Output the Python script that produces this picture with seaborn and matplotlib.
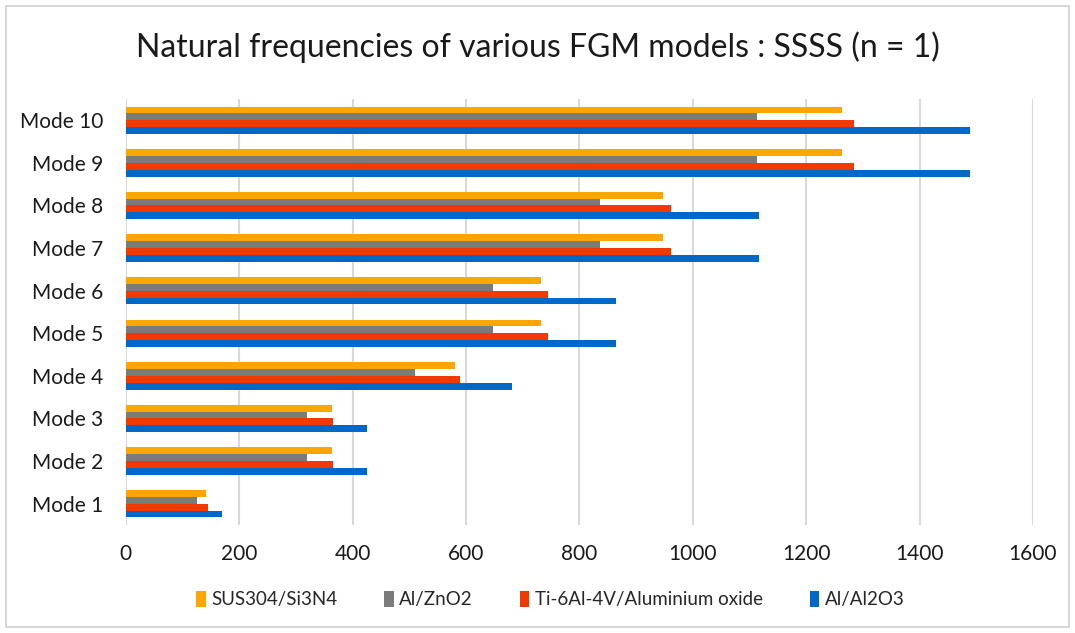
import matplotlib
matplotlib.use("Agg")
import matplotlib.pyplot as plt
import pandas as pd
import seaborn as sns
from matplotlib.patches import Rectangle

# Data
modes = ["Mode 10", "Mode 9", "Mode 8", "Mode 7", "Mode 6",
         "Mode 5", "Mode 4", "Mode 3", "Mode 2", "Mode 1"]
models = ["SUS304/Si3N4", "Al/ZnO2", "Ti-6Al-4V/Aluminium oxide", "Al/Al2O3"]

sus304_si3n4 = [1263, 1263, 947, 947, 732, 732, 580, 363, 363, 141]
al_zno2 = [1114, 1114, 836, 836, 647, 647, 510, 319, 319, 126]
ti6al4v_alox = [1284, 1284, 962, 962, 745, 745, 590, 366, 366, 145]
al_al2o3 = [1489, 1489, 1117, 1117, 865, 865, 682, 426, 426, 169]

colors = ["#FFA500", "#7B7B7B", "#F03A00", "#0068C9"]

series = [sus304_si3n4, al_zno2, ti6al4v_alox, al_al2o3]
rows = []
for name, vals in zip(models, series):
    for m, v in zip(modes, vals):
        rows.append({"mode": m, "model": name, "freq": v})
df = pd.DataFrame(rows)

sns.set_theme(style="white")
plt.rcParams["font.family"] = ["Lato", "DejaVu Sans"]

fig = plt.figure(figsize=(10.75, 6.33), dpi=100)
ax = fig.add_axes([125.7 / 1075, 1 - 525 / 633, (1033 - 125.7) / 1075, (525 - 99) / 633])

sns.barplot(data=df, y="mode", x="freq", hue="model", order=modes,
            hue_order=models, palette=colors, orient="h", width=0.64,
            gap=0, saturation=1, errorbar=None, ax=ax, linewidth=0)

ax.set_xlim(0, 1600)
ax.set_xticks(range(0, 1601, 200))
ax.xaxis.grid(True, color="#D9D9D9", linewidth=1.5)
ax.set_axisbelow(True)
for s in ax.spines.values():
    s.set_visible(False)
ax.set_xlabel("")
ax.set_ylabel("")
ax.tick_params(axis="both", length=0, labelsize=15, colors="#1a1a1a")
ax.tick_params(axis="x", pad=14)
ax.tick_params(axis="y", pad=16)

fig.suptitle("Natural frequencies of various FGM models : SSSS (n = 1)",
             y=1 - 47 / 633, va="center", fontsize=23, color="#1a1a1a")

ax.legend(loc="center", bbox_to_anchor=(0.468, -0.175), ncol=4, frameon=False,
          fontsize=13.5, handlelength=0.5, handleheight=1.0, handletextpad=0.3,
          columnspacing=2.5)

# light chart border like the original frame
fig.patches.append(Rectangle((6 / 1075, 0.01), 1 - 12 / 1075, 1 - 0.02,
                             transform=fig.transFigure, fill=False,
                             edgecolor="#D0D0D0", linewidth=1.2))

fig.savefig("out.png", dpi=100)
